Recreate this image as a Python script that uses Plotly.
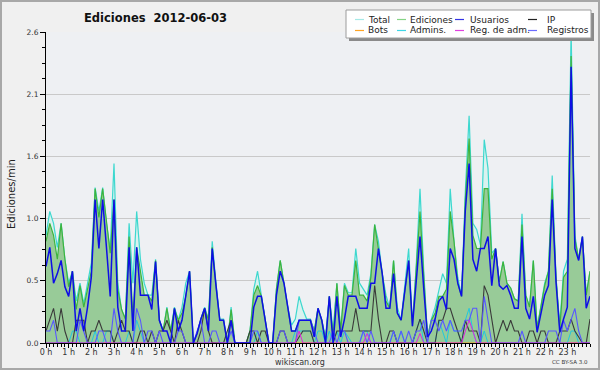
import plotly.graph_objects as go

# ---------------- data (10-minute bins, edits per minute) ----------------
minutes = list(range(0, 24 * 60 + 1, 10))
hours = [m / 60 for m in minutes]

hour_ticks = list(range(24))
hour_labels = ["0 h", "1 h", "2 h", "3 h", "4 h", "5 h", "6 h", "7 h", "8 h", "9 h",
               "10 h", "11 h", "12 h", "13 h", "14 h", "15 h", "16 h", "17 h", "18 h",
               "19 h", "20 h", "21 h", "22 h", "23 h"]

y_ticks = [0.0, 0.52, 1.04, 1.56, 2.08, 2.6]
y_labels = ["0.0", "0.5", "1.0", "1.6", "2.1", "2.6"]

total = [
    0.9, 1.1, 1.0, 0.8, 1.0, 0.7,
    0.5, 0.6, 0.35, 0.5, 0.33, 0.5,
    0.67, 1.3, 1.1, 1.3, 1.0, 0.78,
    1.5, 0.5, 0.28, 0.2, 1.0, 0.5,
    1.1, 0.7, 0.5, 0.4, 0.4, 0.7,
    0.2, 0.1, 0.3, 0.1, 0.3, 0.19,
    0.3, 0.5, 0.6, 0.0, 0.08, 0.2,
    0.3, 0.2, 0.85, 0.5, 0.2, 0.2,
    0.0, 0.3, 0.0, 0.0, 0.0, 0.0,
    0.1, 0.45, 0.6, 0.4, 0.2, 0.0,
    0.0, 0.45, 0.69, 0.5, 0.3, 0.15,
    0.2, 0.39, 0.28, 0.2, 0.2, 0.1,
    0.29, 0.19, 0.05, 0.39, 0.1, 0.5,
    0.1, 0.5, 0.42, 0.42, 0.79, 0.5,
    0.45, 0.4, 0.58, 0.99, 0.85, 0.58,
    0.4, 0.29, 0.69, 0.3, 0.19, 0.5,
    0.79, 0.15, 0.65, 1.29, 0.6, 0.05,
    0.2, 0.3, 0.45, 0.58, 0.5, 1.29,
    0.85, 0.55, 0.39, 1.27, 1.9, 1.0,
    0.95, 0.82, 1.7, 1.46, 0.75, 0.79,
    0.51, 0.68, 0.5, 0.46, 0.37, 0.35,
    1.08, 0.4, 0.3, 0.69, 0.12, 0.3,
    0.5, 0.6, 1.4, 0.55, 0.15, 0.6,
    0.7, 2.6, 0.9, 0.7, 0.89, 0.4,
    0.6]

ediciones = [
    0.85, 1.0, 0.9, 0.7, 1.0, 0.7,
    0.47, 0.6, 0.28, 0.48, 0.3, 0.45,
    0.6, 1.29, 1.05, 1.29, 1.0, 0.75,
    1.2, 0.45, 0.28, 0.2, 0.89, 0.2,
    0.8, 0.6, 0.4, 0.4, 0.35, 0.69,
    0.19, 0.1, 0.29, 0.1, 0.29, 0.19,
    0.25, 0.39, 0.6, 0.0, 0.08, 0.2,
    0.29, 0.19, 0.8, 0.48, 0.19, 0.19,
    0.0, 0.28, 0.0, 0.0, 0.0, 0.0,
    0.1, 0.4, 0.48, 0.39, 0.2, 0.0,
    0.0, 0.45, 0.69, 0.5, 0.3, 0.1,
    0.1, 0.19, 0.19, 0.19, 0.19, 0.1,
    0.29, 0.19, 0.02, 0.39, 0.05, 0.5,
    0.1, 0.48, 0.4, 0.4, 0.69, 0.4,
    0.4, 0.35, 0.55, 0.99, 0.8, 0.58,
    0.35, 0.29, 0.69, 0.25, 0.19, 0.45,
    0.69, 0.14, 0.6, 1.1, 0.55, 0.05,
    0.19, 0.25, 0.39, 0.39, 0.45, 1.1,
    0.85, 0.5, 0.39, 1.2, 1.71, 0.9,
    0.79, 0.79, 1.29, 1.29, 0.7, 0.79,
    0.51, 0.68, 0.5, 0.46, 0.37, 0.35,
    0.99, 0.4, 0.3, 0.69, 0.12, 0.3,
    0.48, 0.6, 1.29, 0.55, 0.12, 0.55,
    0.6, 2.4, 0.87, 0.7, 0.89, 0.4,
    0.6]

usuarios = [
    0.64, 0.8, 0.5, 0.58, 0.69, 0.47,
    0.39, 0.6, 0.1, 0.29, 0.1, 0.3,
    0.55, 1.2, 0.79, 1.2, 0.8, 0.39,
    1.2, 0.3, 0.1, 0.1, 0.8, 0.1,
    0.8, 0.4, 0.4, 0.4, 0.28, 0.68,
    0.19, 0.1, 0.1, 0.0, 0.29, 0.1,
    0.19, 0.39, 0.6, 0.0, 0.08, 0.2,
    0.29, 0.1, 0.79, 0.48, 0.19, 0.19,
    0.0, 0.19, 0.0, 0.0, 0.0, 0.0,
    0.0, 0.3, 0.39, 0.39, 0.19, 0.0,
    0.0, 0.4, 0.6, 0.5, 0.3, 0.1,
    0.1, 0.19, 0.19, 0.19, 0.19, 0.05,
    0.29, 0.19, 0.0, 0.39, 0.0, 0.39,
    0.05, 0.2, 0.39, 0.39, 0.39, 0.29,
    0.29, 0.29, 0.5, 0.5, 0.79, 0.58,
    0.29, 0.29, 0.58, 0.25, 0.19, 0.45,
    0.69, 0.14, 0.5, 0.89, 0.45, 0.05,
    0.1, 0.2, 0.35, 0.39, 0.28, 0.79,
    0.7, 0.5, 0.39, 1.11, 1.5, 0.7,
    0.6, 0.79, 0.79, 0.89, 0.48, 0.79,
    0.48, 0.45, 0.48, 0.4, 0.29, 0.29,
    0.89, 0.29, 0.2, 0.39, 0.09, 0.26,
    0.4, 0.48, 1.2, 0.51, 0.09, 0.2,
    0.3, 2.31, 0.79, 0.69, 0.89, 0.29,
    0.39]

ip = [
    0.1, 0.2, 0.29, 0.1, 0.29, 0.1,
    0.0, 0.0, 0.19, 0.19, 0.19, 0.0,
    0.1, 0.1, 0.19, 0.1, 0.1, 0.1,
    0.0, 0.1, 0.19, 0.1, 0.1, 0.0,
    0.0, 0.1, 0.1, 0.0, 0.1, 0.0,
    0.1, 0.1, 0.19, 0.1, 0.0, 0.19,
    0.1, 0.0, 0.0, 0.0, 0.0, 0.1,
    0.29, 0.1, 0.0, 0.0, 0.0, 0.0,
    0.1, 0.19, 0.0, 0.0, 0.0, 0.0,
    0.1, 0.1, 0.0, 0.1, 0.1, 0.0,
    0.0, 0.0, 0.1, 0.1, 0.0, 0.0,
    0.0, 0.05, 0.1, 0.1, 0.1, 0.0,
    0.0, 0.0, 0.0, 0.0, 0.0, 0.1,
    0.1, 0.1, 0.1, 0.1, 0.29, 0.1,
    0.1, 0.1, 0.1, 0.48, 0.2, 0.0,
    0.0, 0.1, 0.1, 0.0, 0.0, 0.0,
    0.0, 0.0, 0.1, 0.2, 0.1, 0.0,
    0.0, 0.0, 0.19, 0.19, 0.29, 0.29,
    0.19, 0.1, 0.0, 0.19, 0.1, 0.1,
    0.1, 0.0, 0.48, 0.4, 0.2, 0.0,
    0.1, 0.19, 0.1, 0.19, 0.1, 0.1,
    0.0, 0.0, 0.1, 0.1, 0.0, 0.1,
    0.1, 0.0, 0.0, 0.0, 0.1, 0.1,
    0.1, 0.2, 0.1, 0.05, 0.0, 0.0,
    0.2]

bots = [0.0] * 145

admins = [
    0.0, 0.0, 0.0, 0.0, 0.0, 0.0,
    0.0, 0.1, 0.1, 0.0, 0.0, 0.0,
    0.0, 0.1, 0.0, 0.0, 0.1, 0.1,
    0.0, 0.0, 0.0, 0.0, 0.1, 0.0,
    0.19, 0.1, 0.0, 0.0, 0.0, 0.0,
    0.0, 0.0, 0.0, 0.0, 0.0, 0.0,
    0.0, 0.0, 0.0, 0.0, 0.0, 0.0,
    0.0, 0.0, 0.0, 0.0, 0.0, 0.0,
    0.0, 0.0, 0.0, 0.0, 0.0, 0.0,
    0.0, 0.0, 0.1, 0.0, 0.0, 0.0,
    0.0, 0.0, 0.0, 0.0, 0.0, 0.0,
    0.1, 0.1, 0.1, 0.1, 0.1, 0.0,
    0.1, 0.1, 0.0, 0.1, 0.0, 0.1,
    0.0, 0.1, 0.05, 0.0, 0.0, 0.0,
    0.1, 0.1, 0.0, 0.0, 0.0, 0.0,
    0.0, 0.0, 0.1, 0.0, 0.1, 0.0,
    0.0, 0.0, 0.1, 0.2, 0.0, 0.0,
    0.0, 0.0, 0.19, 0.1, 0.0, 0.19,
    0.1, 0.1, 0.0, 0.19, 0.29, 0.1,
    0.0, 0.0, 0.1, 0.0, 0.0, 0.0,
    0.0, 0.0, 0.0, 0.0, 0.0, 0.0,
    0.0, 0.0, 0.0, 0.0, 0.0, 0.0,
    0.0, 0.0, 0.0, 0.0, 0.0, 0.0,
    0.0, 0.1, 0.1, 0.0, 0.0, 0.0,
    0.0]

reg_adm = [
    0.0, 0.0, 0.0, 0.0, 0.0, 0.0,
    0.0, 0.0, 0.0, 0.0, 0.0, 0.0,
    0.0, 0.0, 0.0, 0.0, 0.0, 0.0,
    0.0, 0.0, 0.0, 0.0, 0.0, 0.0,
    0.0, 0.0, 0.0, 0.0, 0.0, 0.0,
    0.0, 0.0, 0.0, 0.0, 0.0, 0.0,
    0.0, 0.0, 0.0, 0.0, 0.0, 0.0,
    0.0, 0.0, 0.0, 0.0, 0.0, 0.0,
    0.0, 0.0, 0.0, 0.0, 0.0, 0.0,
    0.0, 0.0, 0.0, 0.0, 0.0, 0.0,
    0.0, 0.0, 0.0, 0.0, 0.0, 0.0,
    0.0, 0.1, 0.0, 0.0, 0.0, 0.0,
    0.0, 0.0, 0.0, 0.0, 0.0, 0.0,
    0.0, 0.0, 0.0, 0.0, 0.0, 0.0,
    0.0, 0.08, 0.0, 0.0, 0.0, 0.0,
    0.0, 0.0, 0.0, 0.0, 0.0, 0.0,
    0.0, 0.0, 0.0, 0.08, 0.0, 0.0,
    0.0, 0.0, 0.0, 0.0, 0.0, 0.0,
    0.0, 0.0, 0.0, 0.1, 0.19, 0.1,
    0.0, 0.0, 0.0, 0.0, 0.0, 0.0,
    0.0, 0.0, 0.0, 0.0, 0.0, 0.0,
    0.0, 0.0, 0.0, 0.0, 0.0, 0.0,
    0.0, 0.0, 0.0, 0.0, 0.0, 0.0,
    0.0, 0.0, 0.0, 0.0, 0.0, 0.0,
    0.0]

registros = [
    0.1, 0.1, 0.19, 0.0, 0.0, 0.0,
    0.0, 0.0, 0.0, 0.19, 0.1, 0.0,
    0.0, 0.0, 0.1, 0.1, 0.0, 0.0,
    0.29, 0.1, 0.0, 0.0, 0.0, 0.0,
    0.29, 0.19, 0.0, 0.1, 0.1, 0.0,
    0.1, 0.0, 0.0, 0.0, 0.0, 0.1,
    0.1, 0.0, 0.0, 0.0, 0.1, 0.19,
    0.0, 0.0, 0.1, 0.1, 0.0, 0.0,
    0.0, 0.1, 0.0, 0.0, 0.0, 0.0,
    0.0, 0.1, 0.1, 0.0, 0.0, 0.0,
    0.0, 0.0, 0.1, 0.1, 0.0, 0.0,
    0.0, 0.19, 0.19, 0.19, 0.19, 0.1,
    0.0, 0.0, 0.0, 0.0, 0.1, 0.0,
    0.1, 0.1, 0.0, 0.0, 0.0, 0.0,
    0.1, 0.0, 0.1, 0.0, 0.0, 0.0,
    0.0, 0.0, 0.1, 0.0, 0.1, 0.0,
    0.1, 0.0, 0.1, 0.1, 0.19, 0.0,
    0.19, 0.19, 0.1, 0.19, 0.1, 0.19,
    0.1, 0.1, 0.1, 0.19, 0.19, 0.29,
    0.29, 0.0, 0.39, 0.19, 0.0, 0.0,
    0.0, 0.0, 0.0, 0.0, 0.0, 0.0,
    0.1, 0.0, 0.0, 0.0, 0.0, 0.0,
    0.0, 0.1, 0.1, 0.1, 0.0, 0.19,
    0.1, 0.19, 0.29, 0.1, 0.0, 0.0,
    0.0]

series_names = ["Total", "Ediciones", "Usuarios", "IP",
                "Bots", "Admins.", "Reg. de adm.", "Registros"]
line_colors = {"Total": "#3dd8cf", "Ediciones": "#3db43d", "Usuarios": "#0e0ee6",
               "IP": "#3a3a3a", "Bots": "#ff9a1a", "Admins.": "#22c8de",
               "Reg. de adm.": "#e024e0", "Registros": "#5858ff"}
legend_colors = {"Total": "#a6e9e6", "Ediciones": "#86d486", "Usuarios": "#3434e6",
                 "IP": "#222222", "Bots": "#ffa424", "Admins.": "#3ed6e6",
                 "Reg. de adm.": "#e040e0", "Registros": "#6a6aff"}

# ---------------- figure ----------------
W, H = 600, 370
L, R, T, B = 46, 590, 32, 343
FONT = "DejaVu Sans"


def fx(px):
    return (px - L) / (R - L)


def fy(py):
    return (B - py) / (B - T)


fig = go.Figure()

fig.add_trace(go.Scatter(x=hours, y=total, mode="lines", fill="tozeroy",
                         fillcolor="#d9f2ef", line=dict(color=line_colors["Total"], width=1.2),
                         name="Total", showlegend=False))
fig.add_trace(go.Scatter(x=hours, y=ediciones, mode="lines", fill="tozeroy",
                         fillcolor="#98cb98", line=dict(color=line_colors["Ediciones"], width=1.2),
                         name="Ediciones", showlegend=False))
for name, vals, w in [("Bots", bots, 1.0), ("Admins.", admins, 1.0), ("IP", ip, 1.1),
                      ("Registros", registros, 1.1), ("Reg. de adm.", reg_adm, 1.0),
                      ("Usuarios", usuarios, 1.5)]:
    fig.add_trace(go.Scatter(x=hours, y=vals, mode="lines",
                             line=dict(color=line_colors[name], width=w),
                             name=name, showlegend=False))

shapes = []
annotations = []

# whole-image border
shapes.append(dict(type="rect", xref="paper", yref="paper",
                   x0=fx(1), x1=fx(599), y0=fy(1), y1=fy(369),
                   line=dict(color="#a8a8a8", width=2), fillcolor="rgba(0,0,0,0)",
                   layer="below"))

# legend box with shadow
shapes.append(dict(type="rect", xref="paper", yref="paper",
                   x0=fx(349), x1=fx(594), y0=fy(13), y1=fy(41),
                   line=dict(width=0), fillcolor="#8a8a8a", layer="above"))
shapes.append(dict(type="rect", xref="paper", yref="paper",
                   x0=fx(346), x1=fx(591), y0=fy(10), y1=fy(38),
                   line=dict(color="#9c9c9c", width=1), fillcolor="#ffffff", layer="above"))

swatch_x = [355, 397, 455, 528]
text_x = [366, 408, 468, 545]
row_y = [19.5, 30.5]
for k, name in enumerate(series_names):
    r, c = divmod(k, 4)
    shapes.append(dict(type="line", xref="paper", yref="paper",
                       x0=fx(swatch_x[c]), x1=fx(swatch_x[c] + 9),
                       y0=fy(row_y[r]), y1=fy(row_y[r]),
                       line=dict(color=legend_colors[name], width=1.2), layer="above"))
    annotations.append(dict(xref="paper", yref="paper", x=fx(text_x[c]), y=fy(row_y[r]),
                            text=name, showarrow=False, xanchor="left", yanchor="middle",
                            font=dict(family=FONT, size=9, color="#222222")))

# title
annotations.append(dict(xref="paper", yref="paper", x=fx(155), y=fy(18),
                        text="Ediciones\u00a0 2012-06-03", showarrow=False,
                        xanchor="center", yanchor="middle",
                        font=dict(family=FONT, size=11.5, color="#111111", weight="bold")))
# y axis title
annotations.append(dict(xref="paper", yref="paper", x=fx(11), y=fy(194),
                        text="Ediciones/min", showarrow=False, textangle=-90,
                        xanchor="center", yanchor="middle",
                        font=dict(family=FONT, size=10, color="#222222")))
# footer texts
annotations.append(dict(xref="paper", yref="paper", x=fx(300), y=fy(362),
                        text="wikiscan.org", showarrow=False, xanchor="center", yanchor="middle",
                        font=dict(family=FONT, size=8, color="#333333")))
annotations.append(dict(xref="paper", yref="paper", x=fx(590), y=fy(362),
                        text="CC BY-SA 3.0", showarrow=False, xanchor="right", yanchor="middle",
                        font=dict(family=FONT, size=5.5, color="#333333")))

fig.update_layout(
    width=W, height=H,
    margin=dict(l=L, r=W - R, t=T, b=H - B, pad=0),
    paper_bgcolor="#f0f0f0", plot_bgcolor="#eef0f3",
    showlegend=False,
    shapes=shapes, annotations=annotations,
    font=dict(family=FONT, size=8, color="#333333"),
    xaxis=dict(range=[0, 24], tickmode="array", tickvals=hour_ticks, ticktext=hour_labels,
               ticks="outside", ticklen=4, tickwidth=1, tickcolor="#000000",
               ticklabelstandoff=-3,
               showline=True, linecolor="#000000", linewidth=1,
               showgrid=False, zeroline=False,
               tickfont=dict(family=FONT, size=8, color="#333333"),
               minor=dict(tickmode="linear", tick0=0, dtick=1 / 6, ticks="outside",
                          ticklen=3, tickcolor="#000000", showgrid=False)),
    yaxis=dict(range=[0, 2.6], tickmode="array", tickvals=y_ticks, ticktext=y_labels,
               ticks="outside", ticklen=5, tickwidth=1, tickcolor="#000000",
               showline=True, linecolor="#000000", linewidth=1,
               showgrid=True, gridcolor="#c9c9c9", gridwidth=1, zeroline=False,
               tickfont=dict(family=FONT, size=7.5, color="#333333"),
               minor=dict(tickmode="linear", tick0=0, dtick=0.13, ticks="outside",
                          ticklen=3, tickcolor="#000000", showgrid=False)),
)

fig.write_html("out.html", config={"staticPlot": True, "displayModeBar": False},
               post_script="document.body.style.margin='0';document.body.style.overflow='hidden';")
